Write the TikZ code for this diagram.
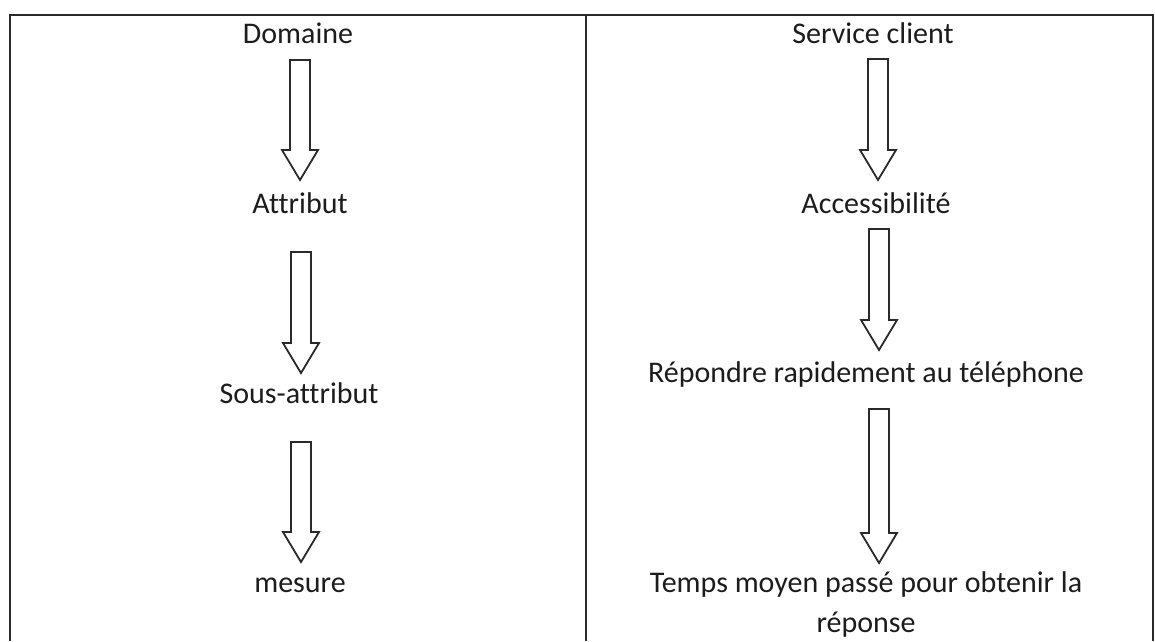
\documentclass[tikz,border=0pt]{standalone}
\usepackage{fontspec}
\setmainfont[Ligatures=NoCommon]{Carlito}
\usetikzlibrary{calc}
\definecolor{inkline}{HTML}{2A2A2A}
\definecolor{inktext}{HTML}{1C1C1C}
\tikzset{
  lbl/.style={anchor=base, inner sep=0pt, text=inktext, font=\fontsize{30}{40}\selectfont, align=center},
  frame/.style={draw=inkline, line width=1.8pt},
  arrowline/.style={draw=inkline, line width=1.8pt, line join=miter, fill=white}
}
\newcommand{\flowarrow}[2]{%
  \draw[arrowline] ($(#1)+(-10,0)$) -- ($(#2)+(-10,-30)$) -- ($(#2)+(-18,-30)$) -- (#2)
    -- ($(#2)+(18,-30)$) -- ($(#2)+(10,-30)$) -- ($(#1)+(10,0)$) -- cycle;}
\begin{document}
\begin{tikzpicture}[x=1pt, y=-1pt]
\useasboundingbox (0,0) rectangle (1155,641);
% table frame
\coordinate (bl) at (10,641);
\coordinate (tl) at (10,15);
\coordinate (tr) at (1153,15);
\coordinate (br) at (1153,641);
\coordinate (mt) at (586,15);
\coordinate (mb) at (586,641);
\draw[frame] (bl) -- (tl) -- (tr) -- (br);
\draw[frame] (mt) -- (mb);
% left column
\node[lbl] (dom) at (298,43) {Domaine};
\node[lbl] (att) at (300,213) {Attribut};
\node[lbl] (sat) at (299,403) {Sous-attribut};
\node[lbl] (mes) at (300,592) {mesure};
\coordinate (la1s) at (300,60);  \coordinate (la1e) at (300,180);
\coordinate (la2s) at (301,252); \coordinate (la2e) at (301,373);
\coordinate (la3s) at (301,442); \coordinate (la3e) at (301,562);
\flowarrow{la1s}{la1e}
\flowarrow{la2s}{la2e}
\flowarrow{la3s}{la3e}
% right column
\node[lbl] (svc) at (873,43) {Service client};
\node[lbl] (acc) at (876,213) {Accessibilité};
\node[lbl] (rep) at (866,382) {Répondre rapidement au téléphone};
\coordinate (ra1s) at (878,59);  \coordinate (ra1e) at (878,180);
\coordinate (ra2s) at (879,229); \coordinate (ra2e) at (879,350);
\coordinate (ra3s) at (879,409); \coordinate (ra3e) at (879,563);
\flowarrow{ra1s}{ra1e}
\flowarrow{ra2s}{ra2e}
\flowarrow{ra3s}{ra3e}
\node[lbl] (tmp) at (866,632) {Temps moyen passé pour obtenir la\\réponse};
\end{tikzpicture}
\end{document}
